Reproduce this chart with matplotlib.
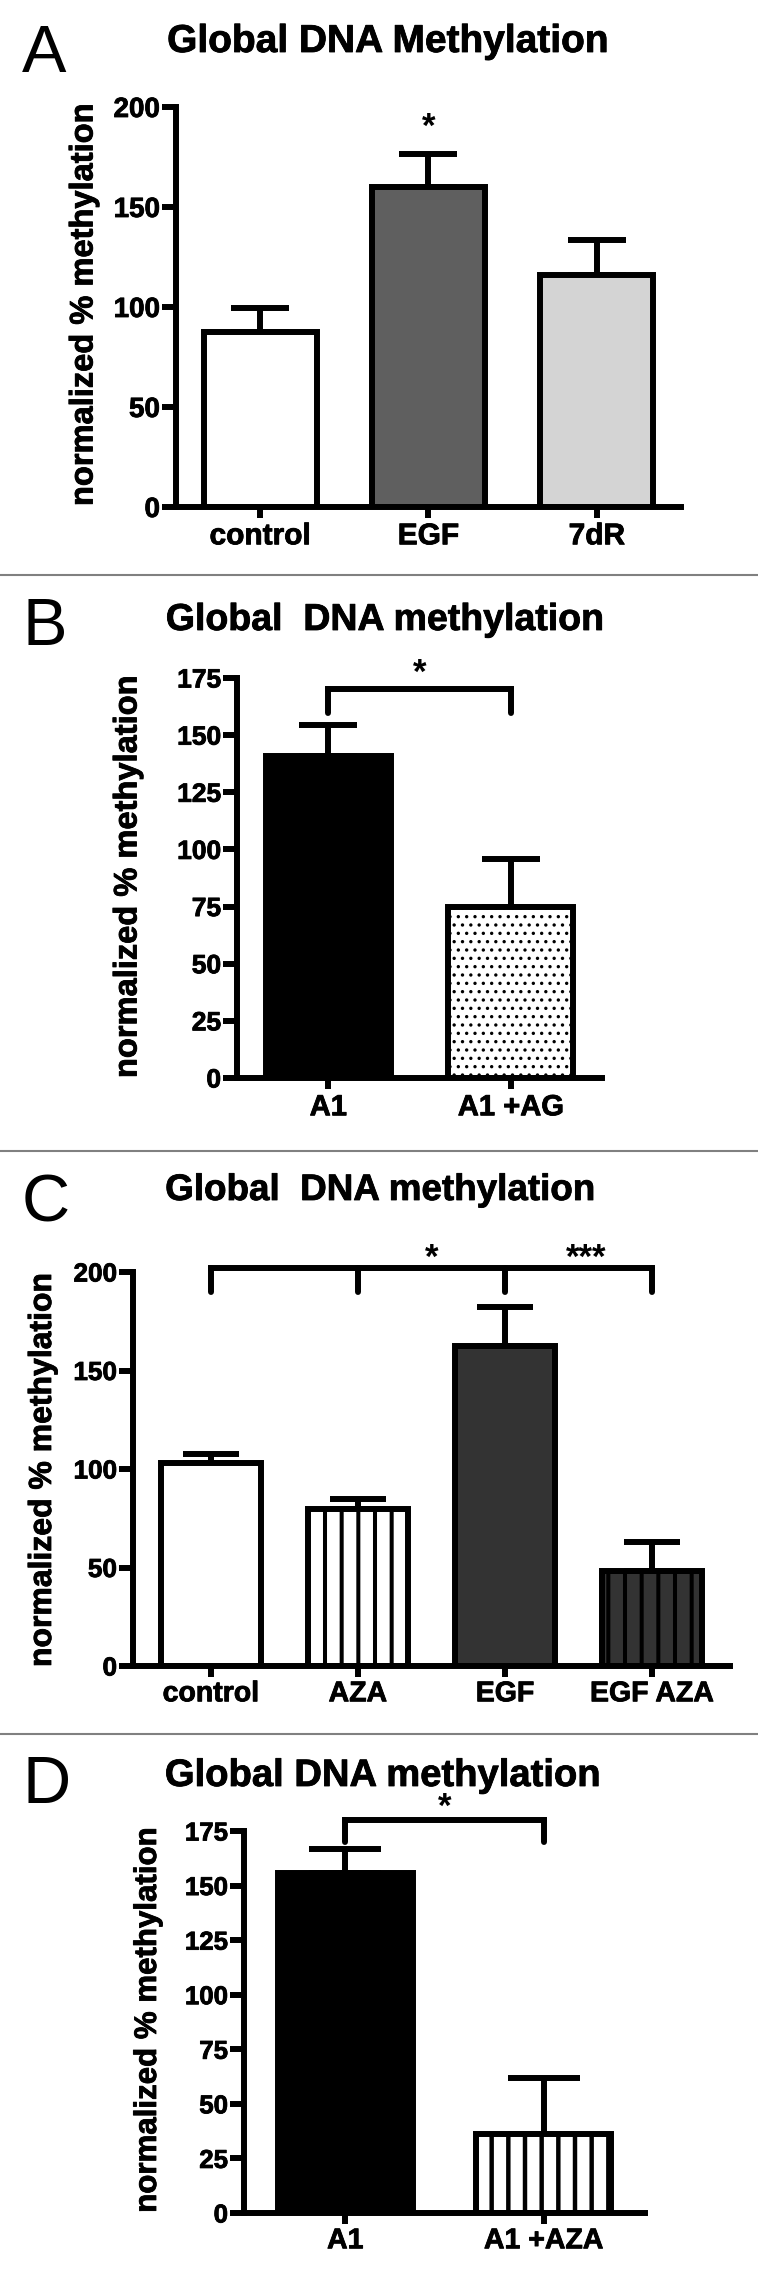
import matplotlib
matplotlib.use("Agg")
import matplotlib.pyplot as plt
import matplotlib.patheffects as pe
import numpy as np

# ---------------- data ----------------
a_labels = ["control", "EGF", "7dR"]
a_means = [87.3, 160.0, 116.0]
a_errs = [12.2, 16.7, 17.6]
a_yticks = [0, 50, 100, 150, 200]
a_star_y = 190

b_labels = ["A1", "A1 +AG"]
b_means = [140.9, 75.0]
b_errs = [13.4, 21.0]
b_yticks = [0, 25, 50, 75, 100, 125, 150, 175]
b_bracket = [170, 159.6]   # bar level, leg bottom
b_star_y = 177

c_labels = ["control", "AZA", "EGF", "EGF AZA"]
c_means = [103.1, 79.5, 162.4, 48.0]
c_errs = [4.3, 5.2, 19.6, 14.9]
c_yticks = [0, 50, 100, 150, 200]
c_bracket = [202, 190]
c_star_y = 207

d_labels = ["A1", "A1 +AZA"]
d_means = [155.6, 36.4]
d_errs = [11.0, 25.3]
d_yticks = [0, 25, 50, 75, 100, 125, 150, 175]
d_bracket = [180, 170]
d_star_y = 186

# ---------------- layout helpers ----------------
W, H = 758, 2279
plt.rcParams["font.family"] = ["Liberation Sans", "DejaVu Sans"]
fig = plt.figure(figsize=(W / 100, H / 100), dpi=100)
LW = 4.3
HEAVY = [pe.withStroke(linewidth=0.6, foreground="black")]


def fx(px):
    return px / W


def fy(py):
    return 1 - py / H


def make_axes(left, right, y0, ytop, xlim, ylim, yticks, ytick_fs):
    ax = fig.add_axes([fx(left), fy(y0), (right - left) / W, (y0 - ytop) / H])
    ax.set_xlim(*xlim)
    ax.set_ylim(*ylim)
    for s in ["top", "right"]:
        ax.spines[s].set_visible(False)
    for s in ["left", "bottom"]:
        ax.spines[s].set_linewidth(LW)
        ax.spines[s].set_capstyle("projecting")
    ax.set_yticks(yticks)
    ax.tick_params(axis="y", length=10, width=LW, pad=1.5,
                   labelsize=ytick_fs)
    ax.tick_params(axis="x", length=8, width=LW, pad=3)
    for lab in ax.get_yticklabels():
        lab.set_fontweight("bold")
        lab.set_path_effects(HEAVY)
    return ax


def bars(ax, means, errs, labels, width, faces, hatches, capsize, xfs,
         hatch_lw):
    x = np.arange(len(means))
    ax.errorbar(x, means, yerr=[np.zeros(len(errs)), errs], fmt="none",
                ecolor="black", elinewidth=LW, capsize=capsize, capthick=LW,
                zorder=1)
    for xi, m, fc, h, hl in zip(x, means, faces, hatches, hatch_lw):
        with plt.rc_context({"hatch.linewidth": hl, "hatch.color": "black"}):
            b = ax.bar(xi, m, width=width, color=fc, edgecolor="black",
                       linewidth=LW, hatch=h, zorder=2)
            for p in b.patches:
                if hasattr(p, "set_hatch_linewidth"):
                    p.set_hatch_linewidth(hl)
    ax.set_xticks(x)
    ax.set_xticklabels(labels, fontsize=xfs, fontweight="bold")
    for lab in ax.get_xticklabels():
        lab.set_path_effects(HEAVY)
    return x


def bracket(ax, xs, ylev, ybot):
    ax.plot([xs[0], xs[-1]], [ylev, ylev], color="black", lw=LW,
            solid_capstyle="projecting", clip_on=False, zorder=3)
    for xv in xs:
        ax.plot([xv, xv], [ylev, ybot], color="black", lw=LW,
                solid_capstyle="round", clip_on=False, zorder=3)


def ylabel(ax, cx, cy, fs):
    ax.set_ylabel("normalized % methylation", fontsize=fs, fontweight="bold")
    ax.yaxis.set_label_coords(fx(cx), fy(cy), transform=fig.transFigure)
    ax.yaxis.label.set_verticalalignment("center")
    ax.yaxis.label.set_horizontalalignment("center")
    ax.yaxis.label.set_path_effects(HEAVY)


def title(cx, base, txt, fs):
    fig.text(fx(cx), fy(base), txt, ha="center", va="baseline",
             fontsize=fs, fontweight="bold", path_effects=HEAVY)


def letter(base, txt):
    fig.text(fx(22), fy(base), txt, ha="left", va="baseline", fontsize=48)


def separator(py):
    fig.add_artist(plt.Line2D([0, 1], [fy(py), fy(py)], color="#808080",
                              lw=1.5, transform=fig.transFigure))


def star(ax, x, y, txt):
    ax.text(x, y, txt, ha="center", va="center", fontsize=25,
            fontweight="bold")


# ---------------- panel A ----------------
letter(72, "A")
title(388, 52, "Global DNA Methylation", 28)
axA = make_axes(176, 681, 507, 107, (-0.5, 2.5), (0, 200), a_yticks, 20)
xA = bars(axA, a_means, a_errs, a_labels, 0.67,
          ["white", "#5f5f5f", "#d4d4d4"], [None, None, None], 21, 21.5,
          [1, 1, 1])
star(axA, xA[1], a_star_y, "*")
ylabel(axA, 84, 305, 23.5)

separator(574.5)

# ---------------- panel B ----------------
letter(645, "B")
title(385, 630, "Global  DNA methylation", 27)
axB = make_axes(237, 602, 1078, 678, (-0.5, 1.5), (0, 175), b_yticks, 19)
xB = bars(axB, b_means, b_errs, b_labels, 0.687,
          ["black", "white"], [None, ".."], 21, 21, [1, 1.2])
bracket(axB, [xB[0], xB[1]], b_bracket[0], b_bracket[1])
star(axB, 0.5, b_star_y, "*")
ylabel(axB, 128, 877, 23.5)

separator(1150.5)

# ---------------- panel C ----------------
letter(1221, "C")
title(380, 1200, "Global  DNA methylation", 26.5)
axC = make_axes(133, 730, 1666, 1272, (-0.53, 3.53), (0, 200), c_yticks, 18.8)
xC = bars(axC, c_means, c_errs, c_labels, 0.68,
          ["white", "white", "#333333", "#333333"], [None, "|", None, "|"],
          20, 20.5, [1, 2.9, 1, 2.9])
bracket(axC, list(xC), c_bracket[0], c_bracket[1])
star(axC, 1.5, c_star_y, "*")
star(axC, 2.55, c_star_y, "***")
ylabel(axC, 43, 1470, 23)

separator(1734)

# ---------------- panel D ----------------
letter(1803, "D")
title(383, 1786, "Global DNA methylation", 27.5)
axD = make_axes(244, 645, 2213, 1831, (-0.51, 1.51), (0, 175), d_yticks, 18.6)
xD = bars(axD, d_means, d_errs, d_labels, 0.68,
          ["black", "white"], [None, "|"], 26, 20.5, [1, 3.2])
bracket(axD, [xD[0], xD[1]], d_bracket[0], d_bracket[1])
star(axD, 0.5, d_star_y, "*")
ylabel(axD, 148, 2020, 22.5)

fig.savefig("out.png", dpi=100)
